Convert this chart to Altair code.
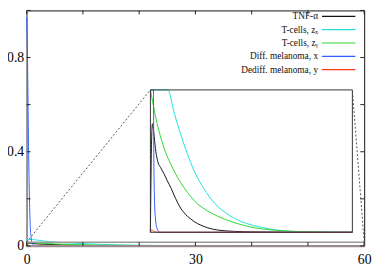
import altair as alt
import pandas as pd

# ---------------- data ----------------
SERIES = ["TNF-α", "T-cells, zₓ", "T-cells, zᵧ", "Diff. melanoma, x", "Dediff. melanoma, y"]
COLORS = ["#111111", "#22e0e0", "#2ed62e", "#3060ff", "#ff3a1a"]

T_TNF = [0, 0.15, 0.3, 0.6, 1, 1.5, 2.3, 3, 4, 5, 6.2, 7, 8, 9, 10, 11, 12, 13, 15, 17, 20, 25, 30, 40, 60]
V_TNF = [0, 0.0055, 0.0095, 0.0122, 0.0112, 0.0094, 0.0078, 0.0073, 0.0066, 0.0058, 0.0049, 0.0042,
         0.0034, 0.0027, 0.0022, 0.0018, 0.0015, 0.0012, 0.0008, 0.0005, 0.00025, 0.0001, 0.00004,
         0.00001, 0]

T_ZX = [0, 0.5, 1, 2, 3, 4, 5.2, 7, 9, 11, 13, 15.9, 19, 23.5, 27, 30.3, 35, 40, 45, 50, 60]
V_ZX = [0.027, 0.0275, 0.027, 0.0245, 0.021, 0.0185, 0.016, 0.0135, 0.0110, 0.0088, 0.0069, 0.0049,
        0.0033, 0.0019, 0.0012, 0.0008, 0.0004, 0.00015, 0.00006, 0.00002, 0]

T_ZY = [0, 1, 2, 3.2, 4.5, 6, 8, 10, 12, 14, 17, 20, 24, 27.5, 31, 35, 40, 45, 50, 60]
V_ZY = [0.016, 0.0140, 0.0122, 0.0105, 0.0090, 0.0077, 0.0062, 0.0050, 0.0040, 0.0032, 0.0024, 0.0018,
        0.0012, 0.0008, 0.0005, 0.0003, 0.00015, 0.00006, 0.00002, 0]

T_X = [0, 0.15, 0.25, 0.35, 0.5, 0.65, 0.8, 0.9, 1.0, 1.2, 1.5, 2, 2.5, 3, 60]
V_X = [0.97, 0.8, 0.6, 0.4, 0.2, 0.08, 0.035, 0.016, 0.009, 0.004, 0.0015, 0.0004, 0.0001, 0, 0]

T_Y = [0, 0.2, 0.4, 0.7, 1, 1.5, 2, 3, 60]
V_Y = [0, 0.0002, 0.00028, 0.0002, 0.0001, 0.00004, 0.00001, 0, 0]

X_TICKS = [0, 10, 20, 30, 40, 50, 60]
Y_TICKS = [0, 0.2, 0.4, 0.6, 0.8, 1.0]
X_LABELS = [0, 30, 60]
Y_LABELS = [0, 0.4, 0.8]
X_DOMAIN = [0, 60]
Y_DOMAIN = [0, 1]
ZOOM_V = 0.016                 # top of the zoomed region (main y units)
INSET_T = [22.0, 57.9]         # inset box in main x units
INSET_V = [0.058, 0.6625]      # inset box in main y units

# ---------------- layout ----------------
W, H = 344, 240
TICK = 4
FONT = "Liberation Serif"

rows = []
for name, ts, vs in zip(SERIES, [T_TNF, T_ZX, T_ZY, T_X, T_Y], [V_TNF, V_ZX, V_ZY, V_X, V_Y]):
    for t, v in zip(ts, vs):
        rows.append({"series": name, "t": t, "v": v})
df = pd.DataFrame(rows)

# symbol drawn to the right of its (right-aligned) label, gnuplot style
legend = alt.Legend(
    title=None, orient="none", legendX=285, legendY=0,
    symbolType="M2,0H8.8", symbolSize=100, symbolStrokeWidth=1.2,
    labelAlign="right", labelOffset=0, labelFont=FONT, labelFontSize=9.5,
    labelColor="#111111", rowPadding=2.6, padding=0,
)
color = alt.Color("series:N", scale=alt.Scale(domain=SERIES, range=COLORS), legend=legend, sort=SERIES)

xs = alt.Scale(domain=X_DOMAIN, nice=False, zero=False)
ys = alt.Scale(domain=Y_DOMAIN, nice=False)

x_axis = alt.Axis(values=X_LABELS, tickSize=0, labelPadding=7, labelFont=FONT, labelFontSize=14,
                  labelColor="black", labelFlush=False, labelAlign="center", title=None, grid=False,
                  domainColor="#999999", domainWidth=1.5)
y_axis = alt.Axis(values=Y_LABELS, format=".1~f", tickSize=0, labelPadding=3, labelFont=FONT,
                  labelFontSize=14, labelColor="black", labelFlush=False, labelBaseline="middle",
                  title=None, grid=False, domainColor="#999999", domainWidth=1.5)


def MX(field):
    return alt.X(field, scale=xs, axis=x_axis)


def MY(field):
    return alt.Y(field, scale=ys, axis=y_axis)


lines_main = alt.Chart(df).mark_line(strokeWidth=1, interpolate="monotone").encode(
    x=MX("t:Q"), y=MY("v:Q"), color=color)

zoom_df = pd.DataFrame([{"t0": X_DOMAIN[0], "t1": X_DOMAIN[1], "v0": 0, "v1": ZOOM_V}])
zoom_rect = alt.Chart(zoom_df).mark_rect(fillOpacity=0, stroke="#9a9a9a", strokeWidth=1.5).encode(
    x=MX("t0:Q"), x2="t1:Q", y=MY("v0:Q"), y2="v1:Q")

conn_df = pd.DataFrame([
    {"t": X_DOMAIN[0], "v": ZOOM_V, "t2": INSET_T[0], "v2": INSET_V[1]},
    {"t": X_DOMAIN[1], "v": ZOOM_V, "t2": INSET_T[1], "v2": INSET_V[1]},
])
connectors = alt.Chart(conn_df).mark_rule(strokeDash=[2, 2], color="#555555", strokeWidth=1).encode(
    x=MX("t:Q"), x2="t2:Q", y=MY("v:Q"), y2="v2:Q")

xt = pd.DataFrame({"t": X_TICKS})
yt = pd.DataFrame({"v": Y_TICKS})
tick_style = dict(color="#222222", strokeWidth=1)
ticks = [
    alt.Chart(xt).mark_rule(**tick_style).encode(x=MX("t:Q"), y=alt.value(H), y2=alt.value(H - TICK)),
    alt.Chart(xt).mark_rule(**tick_style).encode(x=MX("t:Q"), y=alt.value(0), y2=alt.value(TICK)),
    alt.Chart(yt).mark_rule(**tick_style).encode(y=MY("v:Q"), x=alt.value(0), x2=alt.value(TICK)),
    alt.Chart(yt).mark_rule(**tick_style).encode(y=MY("v:Q"), x=alt.value(W), x2=alt.value(W - TICK)),
]

main = alt.layer(lines_main, zoom_rect, connectors, *ticks)

# ---------------- inset (its own scales, placed by pixel range) ----------------
ixs = alt.Scale(domain=X_DOMAIN, range=[INSET_T[0] / X_DOMAIN[1] * W, INSET_T[1] / X_DOMAIN[1] * W],
                nice=False, zero=False)
iys = alt.Scale(domain=[0, ZOOM_V], range=[H - INSET_V[0] * H, H - INSET_V[1] * H],
                nice=False, zero=False, clamp=True)

inset_bg = alt.Chart(zoom_df).mark_rect(fill="white", strokeWidth=0).encode(
    x=alt.X("t0:Q", scale=ixs, axis=None), x2="t1:Q",
    y=alt.Y("v0:Q", scale=iys, axis=None), y2="v1:Q")
inset_lines = alt.Chart(df).mark_line(strokeWidth=1, interpolate="monotone").encode(
    x=alt.X("t:Q", scale=ixs, axis=None),
    y=alt.Y("v:Q", scale=iys, axis=None),
    color=color,
)
inset_frame = alt.Chart(zoom_df).mark_rect(fillOpacity=0, stroke="#333333", strokeWidth=1).encode(
    x=alt.X("t0:Q", scale=ixs, axis=None), x2="t1:Q",
    y=alt.Y("v0:Q", scale=iys, axis=None), y2="v1:Q")

inset = alt.layer(inset_bg, inset_lines, inset_frame)

chart = alt.layer(main, inset).resolve_scale(x="independent", y="independent").properties(
    width=W, height=H,
    autosize=alt.AutoSizeParams(type="none"),
    padding={"left": 19, "top": 0, "right": 10, "bottom": 20},
).configure_view(stroke="#111111", strokeWidth=1)

chart.save("out.html", embed_options={"renderer": "svg", "actions": False})
